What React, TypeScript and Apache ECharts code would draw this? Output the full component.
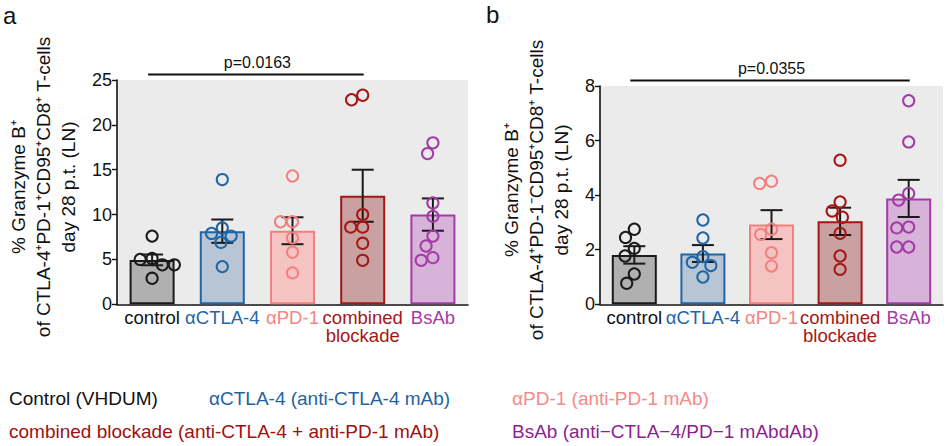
import React, { useEffect, useRef } from "react";
import * as echarts from "echarts";

const FONT = '"Liberation Sans", Arial, Helvetica, sans-serif';

const categories = ["control", "αCTLA-4", "αPD-1", "combined\nblockade", "BsAb"];
const strokeColors = ["#1a1a1a", "#1f66a6", "#f3807f", "#a51616", "#a43aa6"];
const fillColors = ["#b0b0b0", "#b7c5d4", "#f6c3c3", "#c9a1a1", "#d7b2d9"];
const labelColors = ["#111111", "#1f66a6", "#f7857f", "#a51616", "#a43aa6"];

// Panel a
const meansA = [4.95, 8.15, 8.2, 12.1, 10.0];
const semA = [0.6, 1.3, 1.5, 2.9, 1.8];
const pointsA = [
  [7.6, 5.1, 5.0, 4.4, 4.4, 2.9],
  [13.9, 8.5, 7.9, 7.6, 6.9, 4.2],
  [14.3, 9.2, 9.2, 7.4, 5.8, 3.5],
  [23.3, 22.8, 10.0, 8.6, 8.6, 6.8, 4.9],
  [18.0, 16.8, 11.3, 9.8, 7.6, 6.5, 5.2, 4.9],
];
const yMaxA = 25;
const yStepA = 5;
const compareA = [0, 3];
const pLabelA = "p=0.0163";

// Panel b
const meansB = [1.81, 1.86, 2.92, 3.04, 3.88];
const semB = [0.32, 0.31, 0.53, 0.5, 0.68];
const pointsB = [
  [2.75, 2.45, 2.05, 1.77, 1.11, 0.77],
  [3.09, 2.43, 1.75, 1.54, 1.42, 1.0],
  [4.51, 4.43, 2.75, 2.56, 1.89, 1.4],
  [5.28, 3.75, 3.42, 3.19, 2.6, 1.77, 1.28],
  [7.46, 5.95, 4.06, 3.82, 2.83, 2.8, 2.1, 2.1],
];
const yMaxB = 8;
const yStepB = 2;
const compareB = [0, 4];
const pLabelB = "p=0.0355";

const titleA = ["% Granzyme B⁺", "of CTLA-4⁺PD-1⁺CD95⁺CD8⁺ T-cells", "day 28 p.t. (LN)"];
const titleB = ["% Granzyme B⁺", "of CTLA-4⁺PD-1⁻CD95⁺CD8⁺ T-cells", "day 28 p.t. (LN)"];

const legendTexts = [
  "Control (VHDUM)",
  "αCTLA-4 (anti-CTLA-4 mAb)",
  "αPD-1 (anti-PD-1 mAb)",
  "combined blockade (anti-CTLA-4 + anti-PD-1 mAb)",
  "BsAb (anti−CTLA−4/PD−1 mAbdAb)",
];
const legendColors = ["#111111", "#1f63a0", "#f58a8a", "#a01010", "#8e1f90"];

function swarm(ys: number[], d: number): number[] {
  const placed: { x: number; y: number }[] = [];
  const xs: number[] = [];
  for (const y of ys) {
    const cands = [0];
    for (const p of placed) {
      const dy = Math.abs(p.y - y);
      if (dy < d) {
        const dx = Math.sqrt(d * d - dy * dy);
        cands.push(p.x - dx, p.x + dx);
      }
    }
    cands.sort((a, b) => Math.abs(a) - Math.abs(b) || a - b);
    let chosen = 0;
    for (const cx of cands) {
      if (placed.every((p) => (p.x - cx) ** 2 + (p.y - y) ** 2 >= d * d - 0.01)) {
        chosen = cx;
        break;
      }
    }
    placed.push({ x: chosen, y });
    xs.push(chosen);
  }
  return xs;
}

function panelSeries(
  idx: number,
  means: number[],
  sem: number[],
  points: number[][],
  yMax: number,
  compare: number[],
  pLabel: string
) {
  return [
    {
      type: "bar",
      xAxisIndex: idx,
      yAxisIndex: idx,
      barWidth: 45,
      z: 2,
      data: means.map((v, i) => ({
        value: v,
        itemStyle: { color: fillColors[i], borderColor: strokeColors[i], borderWidth: 2 },
      })),
    },
    {
      type: "custom",
      xAxisIndex: idx,
      yAxisIndex: idx,
      z: 3,
      data: means.map((m, i) => [i, m - sem[i], m + sem[i]]),
      renderItem: (params: any, api: any) => {
        const c = api.value(0);
        const lo = api.coord([c, api.value(1)]);
        const hi = api.coord([c, api.value(2)]);
        const hw = 11;
        const st = { stroke: "#1a1a1a", lineWidth: 2 };
        return {
          type: "group",
          children: [
            { type: "line", shape: { x1: lo[0], y1: lo[1], x2: hi[0], y2: hi[1] }, style: st },
            { type: "line", shape: { x1: lo[0] - hw, y1: lo[1], x2: lo[0] + hw, y2: lo[1] }, style: st },
            { type: "line", shape: { x1: hi[0] - hw, y1: hi[1], x2: hi[0] + hw, y2: hi[1] }, style: st },
          ],
        };
      },
    },
    {
      type: "custom",
      xAxisIndex: idx,
      yAxisIndex: idx,
      z: 4,
      data: points.map((_, i) => [i, 0]),
      renderItem: (params: any, api: any) => {
        const c = api.value(0);
        const pts = points[c].map((v) => api.coord([c, v]));
        const offs = swarm(pts.map((p) => p[1]), 12);
        return {
          type: "group",
          children: pts.map((p, k) => ({
            type: "circle",
            shape: { cx: p[0] + offs[k], cy: p[1], r: 5.6 },
            style: { fill: "none", stroke: strokeColors[c], lineWidth: 2 },
          })),
        };
      },
    },
    {
      type: "custom",
      xAxisIndex: idx,
      yAxisIndex: idx,
      z: 5,
      data: [[compare[0], compare[1]]],
      renderItem: (params: any, api: any) => {
        const a = api.coord([api.value(0), yMax]);
        const b = api.coord([api.value(1), yMax]);
        const ly = a[1] - 5.5;
        return {
          type: "group",
          children: [
            {
              type: "line",
              shape: { x1: a[0] - 4, y1: ly, x2: b[0] + 1, y2: ly },
              style: { stroke: "#111", lineWidth: 2 },
            },
            {
              type: "text",
              x: (a[0] + b[0]) / 2,
              y: ly - 12.5,
              style: {
                text: pLabel,
                fill: "#111",
                font: `16px ${FONT}`,
                align: "center",
                verticalAlign: "middle",
              },
            },
          ],
        };
      },
    },
  ];
}

function xAxisFor(gridIndex: number) {
  return {
    type: "category",
    gridIndex,
    data: categories.map((c, i) => ({ value: c, textStyle: { color: labelColors[i] } })),
    axisLine: { lineStyle: { color: "#111", width: 1.6 } },
    axisTick: { alignWithLabel: true, length: 5, lineStyle: { color: "#111", width: 1.4 } },
    axisLabel: { interval: 0, fontSize: 18.5, lineHeight: 18, margin: 4, fontFamily: FONT },
  };
}

function yAxisFor(gridIndex: number, max: number, step: number) {
  return {
    type: "value",
    gridIndex,
    min: 0,
    max,
    interval: step,
    axisLine: { show: true, lineStyle: { color: "#111", width: 1.6 } },
    axisTick: { show: true, length: 5, lineStyle: { color: "#111", width: 1.4 } },
    axisLabel: { fontSize: 18, color: "#111", margin: 5, fontFamily: FONT },
    splitLine: { show: false },
  };
}

export default function App() {
  const ref = useRef<HTMLDivElement>(null);
  useEffect(() => {
    document.body.style.margin = "0";
    if (!ref.current) return;
    const chart = echarts.init(ref.current, null, { renderer: "svg" });
    const textEl = (x: number, y: number, text: string, color: string, size: number) => ({
      type: "text",
      x,
      y,
      style: {
        text,
        fill: color,
        font: `${size}px ${FONT}`,
        align: "left",
        verticalAlign: "middle",
      },
    });
    const legendPos = [
      [9, 398],
      [209, 398],
      [512, 398],
      [9, 431],
      [512, 431],
    ];
    chart.setOption({
      animation: false,
      grid: [
        { left: 117, top: 80, width: 351, height: 224.3, show: true, backgroundColor: "#ebebeb", borderWidth: 0 },
        { left: 600, top: 86, width: 343, height: 218.3, show: true, backgroundColor: "#ebebeb", borderWidth: 0 },
      ],
      xAxis: [xAxisFor(0), xAxisFor(1)],
      yAxis: [yAxisFor(0, yMaxA, yStepA), yAxisFor(1, yMaxB, yStepB)],
      series: [
        ...panelSeries(0, meansA, semA, pointsA, yMaxA, compareA, pLabelA),
        ...panelSeries(1, meansB, semB, pointsB, yMaxB, compareB, pLabelB),
      ],
      graphic: {
        elements: [
          textEl(3, 15, "a", "#111", 24),
          textEl(486, 14, "b", "#111", 24),
          {
            type: "text",
            x: 43,
            y: 187,
            rotation: Math.PI / 2,
            style: {
              text: titleA.join("\n"),
              fill: "#111",
              font: `19px ${FONT}`,
              align: "center",
              verticalAlign: "middle",
              lineHeight: 25,
            },
          },
          {
            type: "text",
            x: 536,
            y: 190,
            rotation: Math.PI / 2,
            style: {
              text: titleB.join("\n"),
              fill: "#111",
              font: `19px ${FONT}`,
              align: "center",
              verticalAlign: "middle",
              lineHeight: 25,
            },
          },
          ...legendTexts.map((t, i) => textEl(legendPos[i][0], legendPos[i][1], t, legendColors[i], 19)),
        ],
      },
    });
    return () => chart.dispose();
  }, []);
  return <div ref={ref} style={{ width: 948, height: 446 }} />;
}
